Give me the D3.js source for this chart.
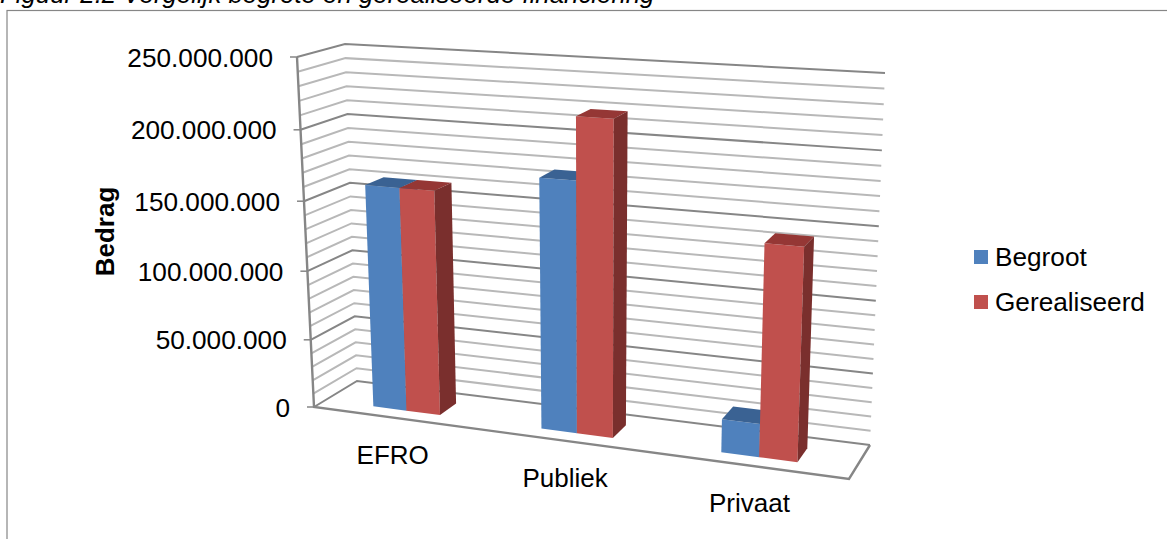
<!DOCTYPE html>
<html lang="nl">
<head>
<meta charset="utf-8">
<title>Figuur 2.2</title>
<script src="https://d3js.org/d3.v7.min.js"></script>
<style>
  html, body { margin: 0; padding: 0; background: #fff; overflow: hidden; }
  text { font-family: "Liberation Sans", Arial, sans-serif; fill: #000; }
</style>
</head>
<body>
<script>
// data
var categories = ["EFRO", "Publiek", "Privaat"];
var seriesNames = ["Begroot", "Gerealiseerd"];
var begroot = [161000000, 176000000, 23000000];
var gerealiseerd = [161000000, 219000000, 145000000];
var tickValues = [0, 50000000, 100000000, 150000000, 200000000, 250000000];
var seriesValues = [begroot, gerealiseerd];

var faceColors = ["#4f81bd", "#c0504d"];
var topColors = ["#3a6293", "#953735"];
var sideColors = ["#385d8a", "#7a2f2d"];

var width = 1167, height = 539;

var svg = d3.select("body").append("svg")
  .attr("width", width)
  .attr("height", height);

// corners of the 3d box on screen
var FLB = [314, 407], FLT = [297, 57];
var BLB = [357, 381], BLT = [345, 44];
var FRB = [849, 479], FRT = [864, 91];
var BRB = [870, 445], BRT = [885, 73];

function mix(a, b, t) {
  return [a[0] + (b[0] - a[0]) * t, a[1] + (b[1] - a[1]) * t];
}

// s = left to right, v = bottom to top, d = front to back (all 0..1)
function project(s, v, d) {
  var sw = s - 0.1 * s * (1 - s);
  var vw = v - 0.05 * v * (1 - v);
  var front = mix(mix(FLB, FRB, sw), mix(FLT, FRT, sw), vw);
  var back = mix(mix(BLB, BRB, sw), mix(BLT, BRT, sw), vw);
  return mix(front, back, d);
}

var y = d3.scaleLinear().domain([0, 250000000]).range([0, 1]);
var x0 = d3.scaleBand().domain(categories).range([0, 1]).paddingInner(0.595).paddingOuter(0.2975);
var x1 = d3.scaleBand().domain(seriesNames).range([0, x0.bandwidth()]);

var nl = d3.formatLocale({ decimal: ",", thousands: ".", grouping: [3], currency: ["€", ""] });
var fmt = nl.format(",d");
var line = d3.line();

// chart border
svg.append("rect")
  .attr("x", 7).attr("y", 10.5)
  .attr("width", 1170).attr("height", 540)
  .attr("fill", "none").attr("stroke", "#868686").attr("stroke-width", 1.2);

// title, cut off by the top of the page as in the scan
svg.append("text")
  .attr("x", 0).attr("y", 3)
  .attr("font-size", 25.8).attr("font-style", "italic")
  .text("Figuur 2.2 Vergelijk begrote en gerealiseerde financiering");

// gridlines on side wall and back wall
var grid = svg.append("g").attr("fill", "none");
y.ticks(25).forEach(function (t) {
  var v = y(t);
  var major = t % 50000000 === 0;
  grid.append("path")
    .attr("d", line([project(0, v, 0), project(0, v, 1), project(1, v, 1)]))
    .attr("stroke", major ? "#868686" : "#b8b8b8")
    .attr("stroke-width", 2);
});

// axis lines and floor
grid.append("path")
  .attr("d", line([project(0, 1, 0), project(0, 0, 0), project(1, 0, 0), project(1, 0, 1)]))
  .attr("stroke", "#868686").attr("stroke-width", 2.4);

// ticks and labels
tickValues.forEach(function (t) {
  var p = project(0, y(t), 0);
  grid.append("line")
    .attr("x1", p[0] - 7).attr("x2", p[0])
    .attr("y1", p[1]).attr("y2", p[1])
    .attr("stroke", "#868686").attr("stroke-width", 1.5);
  svg.append("text")
    .attr("x", p[0] - 24).attr("y", p[1] + 9.5)
    .attr("text-anchor", "end")
    .attr("font-size", 26.2)
    .text(fmt(t));
});

// bars
var bars = svg.append("g");
categories.forEach(function (c, i) {
  seriesNames.forEach(function (n, k) {
    var s0 = x0(c) + x1(n);
    var s1 = s0 + x1.bandwidth();
    var v = y(seriesValues[k][i]);
    var d0 = 0.27, d1 = 0.69;
    var faces = [
      [faceColors[k], [[s0, 0, d0], [s1, 0, d0], [s1, v, d0], [s0, v, d0]]],
      [topColors[k], [[s0, v, d0], [s1, v, d0], [s1, v, d1], [s0, v, d1]]],
      [sideColors[k], [[s1, 0, d0], [s1, 0, d1], [s1, v, d1], [s1, v, d0]]]
    ];
    faces.forEach(function (f) {
      bars.append("path")
        .attr("d", line(f[1].map(function (q) { return project(q[0], q[1], q[2]); })) + "Z")
        .attr("fill", f[0]);
    });
  });
});

// category labels
categories.forEach(function (c) {
  var p = project(x0(c) + x0.bandwidth() / 2, 0, 0);
  svg.append("text")
    .attr("x", p[0] - 3).attr("y", p[1] + 45.5)
    .attr("text-anchor", "middle")
    .attr("font-size", 26)
    .text(c);
});

// axis title
svg.append("text")
  .attr("transform", "translate(114,231.5) rotate(-90)")
  .attr("text-anchor", "middle")
  .attr("font-size", 26).attr("font-weight", "bold")
  .text("Bedrag");

// legend
var legendY = d3.scalePoint().domain(seriesNames).range([257, 302]);
seriesNames.forEach(function (n, k) {
  svg.append("rect")
    .attr("x", 974).attr("y", legendY(n) - 7)
    .attr("width", 14).attr("height", 14)
    .attr("fill", faceColors[k]);
  svg.append("text")
    .attr("x", 995).attr("y", legendY(n) + 8.5)
    .attr("font-size", 26.2)
    .text(n);
});
</script>
</body>
</html>
